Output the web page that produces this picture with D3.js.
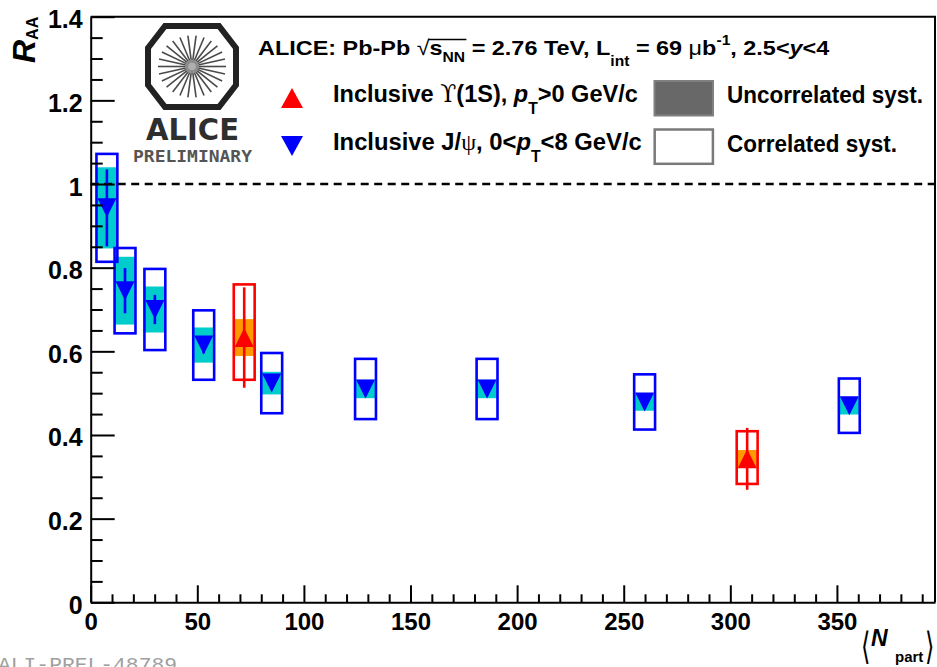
<!DOCTYPE html>
<html>
<head>
<meta charset="utf-8">
<script src="https://cdn.jsdelivr.net/npm/d3@7"></script>
<style>
  html, body { margin: 0; padding: 0; background: #fff; }
  svg { display: block; }
</style>
</head>
<body>
<svg id="chart" width="937" height="667"></svg>
<script>
// ---- Inclusive J/psi, 0 < pT < 8 GeV/c ----
const npartJpsi  = [7.6, 16.1, 30.1, 53.0, 84.9, 128.9, 185.9, 259.8, 355.8];
const raaJpsi    = [0.943, 0.745, 0.700, 0.615, 0.524, 0.510, 0.510, 0.479, 0.470];
const statJpsi   = [0.092, 0.054, 0.035, 0.020, 0.015, 0.015, 0.015, 0.015, 0.015];
const uncorrJpsi = [0.097, 0.081, 0.055, 0.042, 0.027, 0.022, 0.022, 0.021, 0.021];
const corrJpsi   = [0.129, 0.102, 0.097, 0.083, 0.072, 0.072, 0.072, 0.066, 0.065];

// ---- Inclusive Upsilon(1S), pT > 0 GeV/c ----
const npartUps    = [72.0, 307.9];
const raaUps      = [0.633, 0.343];
const statUps     = [0.120, 0.074];
const uncorrUps   = [0.044, 0.021];
const corrUpsHigh = [0.127, 0.066];
const corrUpsLow  = [0.101, 0.060];

// ---- axes ----
const xTickValues = [0, 50, 100, 150, 200, 250, 300, 350];
const xTickLabels = ["0", "50", "100", "150", "200", "250", "300", "350"];
const yTickValues = [0, 0.2, 0.4, 0.6, 0.8, 1.0, 1.2, 1.4];
const yTickLabels = ["0", "0.2", "0.4", "0.6", "0.8", "1", "1.2", "1.4"];

const svg = d3.select("#chart");
const FONT = "'Liberation Sans', Arial, Helvetica, sans-serif";

const plot = { left: 90.7, right: 935, top: 16.7, bottom: 602.3 };
const x = d3.scaleLinear().domain([0, 396]).range([plot.left, plot.right]);
const y = d3.scaleLinear().domain([0, 1.4]).range([plot.bottom, plot.top]);

const boxHalf = 4.9; // half width of the systematic boxes, in Npart units

const jpsi = npartJpsi.map((n, i) => ({
  n, v: raaJpsi[i], stat: statJpsi[i], unc: uncorrJpsi[i], lo: corrJpsi[i], hi: corrJpsi[i]
}));
const ups = npartUps.map((n, i) => ({
  n, v: raaUps[i], stat: statUps[i], unc: uncorrUps[i], lo: corrUpsLow[i], hi: corrUpsHigh[i]
}));

function tri(cx, cy, w, h, up) {
  const p = d3.path();
  if (up) {
    p.moveTo(cx, cy - h / 2); p.lineTo(cx + w / 2, cy + h / 2); p.lineTo(cx - w / 2, cy + h / 2);
  } else {
    p.moveTo(cx - w / 2, cy - h / 2); p.lineTo(cx + w / 2, cy - h / 2); p.lineTo(cx, cy + h / 2);
  }
  p.closePath();
  return p.toString();
}

// squeeze a text group horizontally so it spans the given width
function fitWidth(g, x0, target) {
  const bb = g.node().getBBox();
  const sx = target / bb.width;
  g.attr("transform", `translate(${x0},0) scale(${sx},1) translate(${-bb.x},0)`);
}

// ---- data layers ----
const gBoxes = svg.append("g");
const gRef = svg.append("g");
const gBars = svg.append("g");
const gMarks = svg.append("g");

function drawSeries(data, lineCol, fillCol, up) {
  gBoxes.selectAll(null).data(data).enter().append("rect")
    .attr("x", d => x(d.n - boxHalf))
    .attr("width", d => x(d.n + boxHalf) - x(d.n - boxHalf))
    .attr("y", d => y(d.v + d.unc))
    .attr("height", d => y(d.v - d.unc) - y(d.v + d.unc))
    .attr("fill", fillCol);
  gBoxes.selectAll(null).data(data).enter().append("rect")
    .attr("x", d => x(d.n - boxHalf))
    .attr("width", d => x(d.n + boxHalf) - x(d.n - boxHalf))
    .attr("y", d => y(d.v + d.hi))
    .attr("height", d => y(d.v - d.lo) - y(d.v + d.hi))
    .attr("fill", "none").attr("stroke", lineCol).attr("stroke-width", 2.6);
  gBars.selectAll(null).data(data).enter().append("line")
    .attr("x1", d => x(d.n)).attr("x2", d => x(d.n))
    .attr("y1", d => y(d.v + d.stat)).attr("y2", d => y(d.v - d.stat))
    .attr("stroke", lineCol).attr("stroke-width", 2.6);
  gMarks.selectAll(null).data(data).enter().append("path")
    .attr("d", d => tri(x(d.n), y(d.v), 19, 19, up))
    .attr("fill", lineCol);
}
drawSeries(jpsi, "#0000ff", "#00cccc", false);
drawSeries(ups, "#ff0000", "#ff9900", true);

// reference line at R_AA = 1
gRef.append("line")
  .attr("x1", plot.left).attr("x2", plot.right)
  .attr("y1", y(1)).attr("y2", y(1))
  .attr("stroke", "#000").attr("stroke-width", 2.5).attr("stroke-dasharray", "8,5.5");

// ---- axes ----
const xMinor = d3.range(10, 396, 10).filter(v => v % 50 !== 0);
const yMinor = d3.range(0.05, 1.4, 0.05).map(v => +v.toFixed(2)).filter(v => Math.abs(v / 0.2 - Math.round(v / 0.2)) > 1e-6);

const gx = svg.append("g").attr("transform", `translate(0,${plot.bottom})`);
gx.call(d3.axisBottom(x).tickValues(xTickValues)
  .tickFormat((d, i) => xTickLabels[i]).tickSize(-17).tickSizeOuter(0).tickPadding(10.7));
gx.append("g").call(d3.axisBottom(x).tickValues(xMinor).tickFormat("").tickSize(-8).tickSizeOuter(0))
  .select(".domain").remove();
gx.selectAll("line, path").attr("stroke", "#000").attr("stroke-width", 2);
gx.selectAll("text").attr("font-family", FONT).attr("font-weight", "bold")
  .attr("font-size", 24).attr("fill", "#000");

const gy = svg.append("g").attr("transform", `translate(${plot.left},0)`);
gy.call(d3.axisLeft(y).tickValues(yTickValues)
  .tickFormat((d, i) => yTickLabels[i]).tickSize(-24).tickSizeOuter(0).tickPadding(8));
gy.append("g").call(d3.axisLeft(y).tickValues(yMinor).tickFormat("").tickSize(-12).tickSizeOuter(0))
  .select(".domain").remove();
gy.selectAll("line, path").attr("stroke", "#000").attr("stroke-width", 2);
gy.selectAll("text").attr("font-family", FONT).attr("font-weight", "bold")
  .attr("font-size", 25).attr("fill", "#000").attr("dy", "0.44em");

// frame top and right
svg.append("path")
  .attr("d", `M${plot.left},${plot.top}H${plot.right}V${plot.bottom}`)
  .attr("fill", "none").attr("stroke", "#000").attr("stroke-width", 2);

// axis titles
const yTitle = svg.append("text")
  .attr("transform", "translate(35,63) rotate(-90)")
  .attr("font-family", FONT).attr("font-weight", "bold");
yTitle.append("tspan").attr("font-style", "italic").attr("font-size", 32).text("R");
yTitle.append("tspan").attr("font-size", 16).attr("dy", 3).text("AA");

const BRACKET_FONT = "'DejaVu Sans', sans-serif";
svg.append("text").attr("transform", "translate(861,659) scale(0.8,1.25)")
  .attr("font-family", BRACKET_FONT).attr("font-size", 30).text("⟨");
const xTitle = svg.append("text").attr("font-family", FONT).attr("font-weight", "bold");
xTitle.append("tspan").attr("x", 871).attr("y", 646).attr("font-size", 23)
  .attr("font-style", "italic").text("N");
xTitle.append("tspan").attr("x", 895).attr("y", 662).attr("font-size", 15).text("part");
svg.append("text").attr("transform", "translate(925,659) scale(0.8,1.25)")
  .attr("font-family", BRACKET_FONT).attr("font-size", 30).text("⟩");

// ---- legend ----
const hdr = svg.append("g");
const ht = hdr.append("text").attr("y", 55).attr("font-family", FONT)
  .attr("font-weight", "bold").attr("font-size", 21).attr("fill", "#000");
ht.append("tspan").text("ALICE: Pb-Pb ");
ht.append("tspan").attr("font-weight", "normal").text("√");
ht.append("tspan").text("s");
ht.append("tspan").attr("dy", 7).attr("font-size", 14).text("NN");
ht.append("tspan").attr("dy", -7).text(" = 2.76 TeV, L");
ht.append("tspan").attr("dy", 11).attr("font-size", 14).text("int");
ht.append("tspan").attr("dy", -11).text(" = 69 ");
ht.append("tspan").attr("font-weight", "normal").text("μ");
ht.append("tspan").text("b");
ht.append("tspan").attr("dy", -10).attr("font-size", 14).text("-1");
ht.append("tspan").attr("dy", 10).text(", 2.5<");
ht.append("tspan").attr("font-style", "italic").text("y");
ht.append("tspan").text("<4");
{
  const n = ht.node();
  const x0 = n.getEndPositionOfChar(13).x;
  const x1 = n.getEndPositionOfChar(16).x;
  hdr.append("line").attr("x1", x0 - 1).attr("x2", x1 + 1).attr("y1", 39.5).attr("y2", 39.5)
    .attr("stroke", "#000").attr("stroke-width", 1.4);
}
fitWidth(hdr, 258, 572);

const row1 = svg.append("g");
const r1 = row1.append("text").attr("y", 102).attr("font-family", FONT)
  .attr("font-weight", "bold").attr("font-size", 24);
r1.append("tspan").text("Inclusive ");
r1.append("tspan").attr("font-weight", "normal").attr("font-family", "'DejaVu Serif', serif").text("ϒ");
r1.append("tspan").text("(1S), ");
r1.append("tspan").attr("font-style", "italic").text("p");
r1.append("tspan").attr("dy", 12).attr("font-size", 16).text("T");
r1.append("tspan").attr("dy", -12).text(">0 GeV/c");
fitWidth(row1, 333, 305);

const row2 = svg.append("g");
const r2 = row2.append("text").attr("y", 150).attr("font-family", FONT)
  .attr("font-weight", "bold").attr("font-size", 24);
r2.append("tspan").text("Inclusive J/");
r2.append("tspan").attr("font-weight", "normal").attr("font-family", "'Liberation Serif', serif").text("ψ");
r2.append("tspan").text(", 0<");
r2.append("tspan").attr("font-style", "italic").text("p");
r2.append("tspan").attr("dy", 12).attr("font-size", 16).text("T");
r2.append("tspan").attr("dy", -12).text("<8 GeV/c");
fitWidth(row2, 333, 309);

svg.append("path").attr("d", tri(292, 98, 22, 20, true)).attr("fill", "#ff0000");
svg.append("path").attr("d", tri(292, 146, 22, 20, false)).attr("fill", "#0000ff");

svg.append("rect").attr("x", 654.5).attr("y", 81).attr("width", 58.5).attr("height", 34.5)
  .attr("fill", "#686868").attr("stroke", "#808080").attr("stroke-width", 2);
svg.append("rect").attr("x", 654.7).attr("y", 129.5).attr("width", 58.2).attr("height", 34.3)
  .attr("fill", "#fff").attr("stroke", "#7a7a7a").attr("stroke-width", 2.5);

const u1 = svg.append("g");
u1.append("text").attr("y", 103).attr("font-family", FONT).attr("font-weight", "bold")
  .attr("font-size", 24).text("Uncorrelated syst.");
fitWidth(u1, 727, 196);
const c1 = svg.append("g");
c1.append("text").attr("y", 152).attr("font-family", FONT).attr("font-weight", "bold")
  .attr("font-size", 24).text("Correlated syst.");
fitWidth(c1, 727, 170);

// ---- ALICE logo ----
const logo = svg.append("g");
const oct = [[165, 26], [219, 26], [236, 48], [236, 85], [219, 107], [165, 107], [148, 85], [148, 48]];
logo.append("path").attr("d", d3.line()(oct) + "Z")
  .attr("fill", "#fff").attr("stroke", "#222").attr("stroke-width", 6).attr("stroke-linejoin", "miter");
const lc = [192, 66.5];
const rays = d3.range(26).map(k => (k / 26) * 2 * Math.PI);
logo.selectAll(null).data(rays).enter().append("line")
  .attr("x1", a => lc[0] + 4 * Math.cos(a)).attr("y1", a => lc[1] + 4 * Math.sin(a))
  .attr("x2", a => lc[0] + 34 * Math.cos(a)).attr("y2", a => lc[1] + 31 * Math.sin(a))
  .attr("stroke", "#4a4a4a").attr("stroke-width", 1.6);
logo.append("circle").attr("cx", lc[0]).attr("cy", lc[1]).attr("r", 7)
  .attr("fill", "#9a9a9a").attr("opacity", 0.8);
logo.append("text").attr("x", 146).attr("y", 140).attr("font-family", "'DejaVu Sans', sans-serif")
  .attr("font-weight", 600).attr("font-size", 31).attr("fill", "#2e2e2e").attr("textLength", 93)
  .attr("lengthAdjust", "spacingAndGlyphs").text("ALICE");
logo.append("text").attr("x", 133).attr("y", 162).attr("font-family", "'DejaVu Sans Mono', monospace")
  .attr("font-weight", "bold").attr("font-size", 15).attr("fill", "#555").attr("textLength", 119)
  .attr("lengthAdjust", "spacingAndGlyphs").text("PRELIMINARY");

// figure id, bottom left
svg.append("text").attr("x", -2).attr("y", 671).attr("font-family", "'Liberation Mono', monospace")
  .attr("font-size", 21).attr("fill", "#a0a0a0").attr("textLength", 179)
  .attr("lengthAdjust", "spacingAndGlyphs").text("ALI-PREL-48789");
</script>
</body>
</html>
